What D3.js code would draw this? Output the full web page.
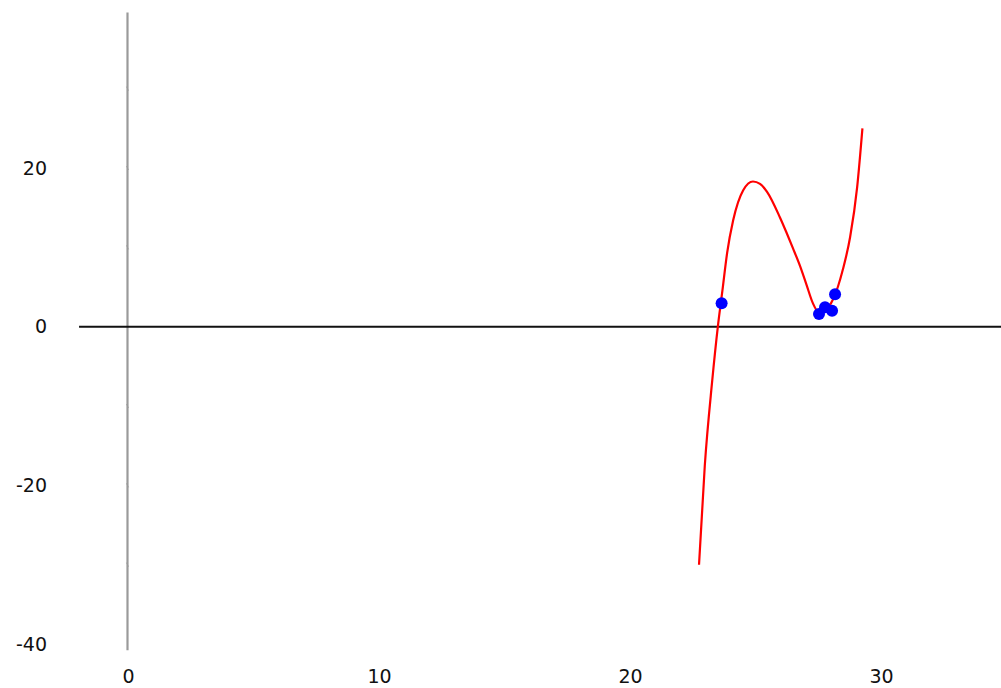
<!DOCTYPE html>
<html>
<head>
<meta charset="utf-8">
<script src="https://cdn.jsdelivr.net/npm/d3@7"></script>
<style>
  body { margin: 0; background: #fff; }
  text { font-family: "DejaVu Sans", Verdana, sans-serif; font-size: 19px; fill: #111; }
</style>
</head>
<body>
<script>
// fitted curve
var curveX = [22.77, 23.0, 23.29, 23.52, 23.7, 23.89, 24.13, 24.53, 24.92, 25.2, 25.48, 25.99, 26.25, 26.51, 26.8, 27.05, 27.3, 27.55, 27.85, 28.1, 28.3, 28.5, 28.79, 29.07, 29.28];
var curveY = [-30, -17.5, -7.0, 0, 4.5, 9.3, 13.4, 17.2, 18.3, 18.0, 17.0, 13.8, 11.9, 9.9, 7.6, 5.3, 3.0, 1.8, 2.2, 3.4, 5.0, 7.2, 11.3, 17.6, 25.0];

// observed points
var pointX = [23.67, 27.55, 27.79, 28.07, 28.19];
var pointY = [2.96, 1.6, 2.46, 2.0, 4.1];

var xTicks = [0, 10, 20, 30];
var yTicks = [20, 0, -20, -40];

var bodySelection = d3.select("body");

var svg = bodySelection.append("svg")
                       .attr("width", 1001)
                       .attr("height", 688);

var x = d3.scaleLinear().domain([0, 30]).range([127.5, 880.5]);
var y = d3.scaleLinear().domain([-40, 20]).range([644, 168]);

// vertical axis (gray)
svg.append("line")
   .attr("x1", x(0)).attr("x2", x(0))
   .attr("y1", y(39.6)).attr("y2", y(-40.8))
   .style("stroke", "#9a9a9a")
   .style("stroke-width", 2.2);

// faint tick marks on the vertical axis
svg.selectAll(".ytick")
   .data([30, 20, 10, -10, -20, -30])
   .enter()
   .append("line")
   .attr("x1", x(0) - 1).attr("x2", x(0) + 1)
   .attr("y1", function (d) { return y(d) - 2; })
   .attr("y2", function (d) { return y(d) + 2; })
   .style("stroke", "#999")
   .style("stroke-width", 0.8);

// horizontal axis (black)
svg.append("line")
   .attr("x1", x(-1.93)).attr("x2", 1001)
   .attr("y1", y(0)).attr("y2", y(0))
   .style("stroke", "#111")
   .style("stroke-width", 2);

svg.selectAll(".ylabel")
   .data(yTicks)
   .enter()
   .append("text")
   .attr("x", 47)
   .attr("y", function (d) { return y(d); })
   .attr("dy", "0.35em")
   .attr("text-anchor", "end")
   .text(function (d) { return d; });

svg.selectAll(".xlabel")
   .data(xTicks)
   .enter()
   .append("text")
   .attr("x", function (d) { return x(d) + 1; })
   .attr("y", 676)
   .attr("dy", "0.35em")
   .attr("text-anchor", "middle")
   .text(function (d) { return d; });

var curveData = curveX.map(function (d, i) { return [d, curveY[i]]; });

var line = d3.line()
             .x(function (d) { return x(d[0]); })
             .y(function (d) { return y(d[1]); })
             .curve(d3.curveMonotoneX);

svg.append("path")
   .datum(curveData)
   .attr("d", line)
   .style("fill", "none")
   .style("stroke", "#ff0000")
   .style("stroke-width", 2.2);

svg.selectAll("circle")
   .data(pointX)
   .enter()
   .append("circle")
   .attr("cx", function (d) { return x(d); })
   .attr("cy", function (d, i) { return y(pointY[i]); })
   .attr("r", 6)
   .style("fill", "#0000ff");
</script>
</body>
</html>
